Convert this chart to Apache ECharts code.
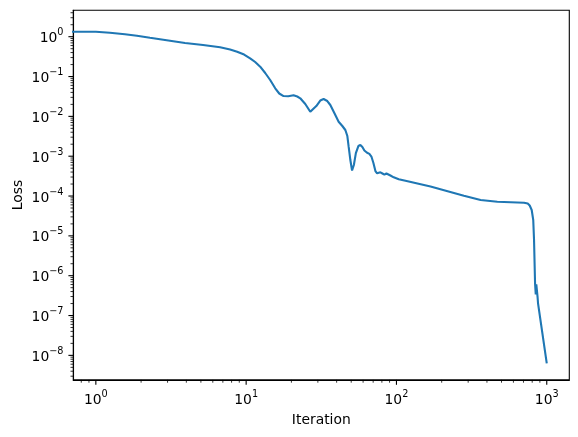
<!DOCTYPE html>
<html>
<head>
<meta charset="utf-8">
<script src="https://cdn.jsdelivr.net/npm/echarts@6/dist/echarts.min.js"></script>
<style>
  html, body { margin: 0; padding: 0; background: #fff; }
  #main { width: 578px; height: 437px; }
</style>
</head>
<body>
<div id="main"></div>
<script>
// iteration 0 can't sit on a log axis, so it is put just left of the view and clipped
var iterations = [0.5, 1, 1.24, 1.561, 1.876, 2.291, 3.114, 3.92, 5.17, 6.71, 7.82, 8.71, 9.69,
  10.63, 11.48, 12.4, 13.39, 14.45, 15.61, 16.6, 17.73, 19.05, 20.67, 21.88, 22.91, 24.74, 26.71,
  29.29, 31.13, 32.76, 34.67, 36.31, 38.61, 41.24, 43.65, 45.71, 47.13, 48.08, 49.35, 50.66,
  52.08, 53.7, 55.8, 57.54, 59.33, 61.19, 63.78, 66.07, 68.13, 70.27, 72.44, 74.36, 76.44,
  78.22, 80.67, 83.18, 85.77, 88.04, 91.2, 95.9, 103.6, 114.8, 168.5, 281, 363, 469, 706,
  747, 770, 794, 813, 823, 836, 845, 852, 861, 868, 875, 1000];
var loss = [1.335, 1.335, 1.253, 1.149, 1.06, 0.938, 0.794, 0.695, 0.619, 0.542, 0.477, 0.42, 0.357,
  0.287, 0.2316, 0.1765, 0.1227, 0.0818, 0.0506, 0.0375, 0.0324, 0.0321, 0.0338, 0.0315, 0.0284,
  0.0204, 0.0131, 0.0182, 0.025, 0.0273, 0.0243, 0.0193, 0.01215, 0.00734, 0.00573, 0.00455,
  0.00321, 0.00173, 0.000802, 0.000437, 0.000601, 0.0012, 0.0018, 0.00191, 0.0017, 0.00139,
  0.00122, 0.00114, 0.00098, 0.000675, 0.000425, 0.000372, 0.000378, 0.000394, 0.000368,
  0.000343, 0.000368, 0.000378, 0.000327, 0.000295, 0.000263, 0.000241, 0.000173, 0.000102,
  7.94e-5, 7.2e-5, 6.8e-5, 6.49e-5, 5.78e-5, 4.46e-5, 2.5e-5, 7.87e-6, 6.44e-7, 3.41e-7,
  6.08e-7, 5.73e-7, 3.04e-7, 2.03e-7, 6.3e-9];

var xRange = [Math.pow(10, -0.15), Math.pow(10, 3.15)];
var yRange = [Math.pow(10, -8.616), Math.pow(10, 0.663)];

var FONT = 'DejaVu Sans';
var grid = { left: 73.3, top: 10.3, width: 496, height: 369.6 };

function powLabel(v) {
  var e = Math.log10(v);
  var r = Math.round(e);
  if (Math.abs(e - r) > 1e-6) return '';
  return '{b|10}{s|' + String(r).replace('-', '\u2212') + '}';
}
var rich = {
  b: { fontFamily: FONT, fontSize: 13.9, color: '#000', lineHeight: 18, verticalAlign: 'bottom' },
  s: { fontFamily: FONT, fontSize: 9.7, color: '#000', lineHeight: 6, verticalAlign: 'top' }
};

var data = [];
for (var i = 0; i < iterations.length; i++) data.push([iterations[i], loss[i]]);

var chart = echarts.init(document.getElementById('main'), null, { renderer: 'canvas' });

var axisCommon = {
  type: 'log',
  logBase: 10,
  nameLocation: 'middle',
  nameMoveOverlap: false,
  nameTextStyle: { fontFamily: FONT, fontSize: 13.9, color: '#000' },
  axisLine: { show: true, lineStyle: { color: '#000', width: 1.1 } },
  // ticks drawn below so the clipped axis ends get none
  axisTick: { show: false },
  splitLine: { show: false },
  minorTick: { show: false },
  axisLabel: { formatter: powLabel, rich: rich, margin: 9.8, showMinLabel: true, showMaxLabel: true }
};

var option = {
  animation: false,
  backgroundColor: '#fff',
  grid: Object.assign({ show: true, borderColor: '#000', borderWidth: 1.1, containLabel: false, outerBoundsMode: 'none' }, grid),
  xAxis: Object.assign({}, axisCommon, {
    name: 'Iteration', nameGap: 33,
    min: xRange[0], max: xRange[1]
  }),
  yAxis: Object.assign({}, axisCommon, {
    name: 'Loss', nameGap: 48, nameRotate: 90,
    min: yRange[0], max: yRange[1]
  }),
  series: [{
    type: 'line',
    data: data,
    showSymbol: false,
    clip: true,
    lineStyle: { color: '#1f77b4', width: 2.1 },
    itemStyle: { color: '#1f77b4' }
  }]
};
chart.setOption(option);

// major ticks at 10^k, minor at 2..9 × 10^k
var g = [];
function addTicks(isX) {
  var range = isX ? xRange : yRange;
  var lo = Math.floor(Math.log10(range[0])), hi = Math.ceil(Math.log10(range[1]));
  for (var d = lo; d <= hi; d++) {
    for (var k = 1; k <= 9; k++) {
      var v = k * Math.pow(10, d);
      if (v <= range[0] || v >= range[1]) continue;
      var len = k === 1 ? 4.9 : 2.8;
      var p = chart.convertToPixel(isX ? { xAxisIndex: 0 } : { yAxisIndex: 0 }, v);
      var shape = isX
        ? { x1: p, y1: grid.top + grid.height, x2: p, y2: grid.top + grid.height + len }
        : { x1: grid.left, y1: p, x2: grid.left - len, y2: p };
      g.push({ type: 'line', shape: shape, style: { stroke: '#000', lineWidth: k === 1 ? 1.1 : 0.8 }, silent: true });
    }
  }
}
addTicks(true);
addTicks(false);
chart.setOption({ graphic: g });
</script>
</body>
</html>
